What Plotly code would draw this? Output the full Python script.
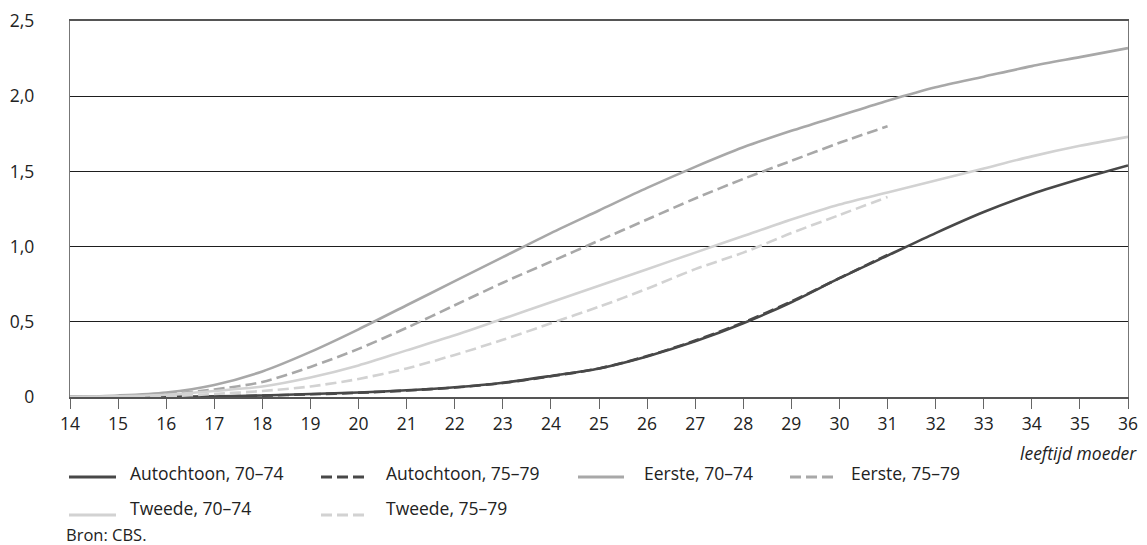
import plotly.graph_objects as go

# ---------------- data ----------------
ages_full = list(range(14, 37))          # 14 .. 36
ages_short = list(range(14, 32))         # 14 .. 31

autochtoon_70_74 = [0, 0, 0.002, 0.005, 0.01, 0.02, 0.03, 0.045, 0.065, 0.095, 0.14, 0.19,
                    0.27, 0.37, 0.49, 0.63, 0.79, 0.94, 1.09, 1.23, 1.35, 1.45, 1.54]
autochtoon_75_79 = [0, 0, 0.002, 0.004, 0.009, 0.018, 0.028, 0.043, 0.063, 0.093, 0.138, 0.19,
                    0.272, 0.375, 0.495, 0.635, 0.79, 0.945]
eerste_70_74 = [0, 0.01, 0.03, 0.08, 0.17, 0.30, 0.45, 0.61, 0.77, 0.93, 1.09, 1.24,
                1.39, 1.53, 1.66, 1.77, 1.87, 1.97, 2.06, 2.13, 2.20, 2.26, 2.32]
eerste_75_79 = [0, 0.005, 0.02, 0.05, 0.10, 0.20, 0.32, 0.46, 0.61, 0.76, 0.90, 1.04,
                1.18, 1.32, 1.45, 1.57, 1.69, 1.80]
tweede_70_74 = [0, 0.005, 0.015, 0.04, 0.07, 0.13, 0.21, 0.31, 0.41, 0.52, 0.63, 0.74,
                0.85, 0.96, 1.07, 1.18, 1.28, 1.36, 1.44, 1.52, 1.60, 1.67, 1.73]
tweede_75_79 = [0, 0, 0.005, 0.02, 0.04, 0.07, 0.12, 0.19, 0.28, 0.38, 0.49, 0.60,
                0.72, 0.85, 0.96, 1.09, 1.21, 1.33]

y_tickvals = [0, 0.5, 1.0, 1.5, 2.0, 2.5]
y_ticktext = ["0", "0,5", "1,0", "1,5", "2,0", "2,5"]
x_tickvals = ages_full

names = ["Autochtoon, 70–74", "Autochtoon, 75–79", "Eerste, 70–74",
         "Eerste, 75–79", "Tweede, 70–74", "Tweede, 75–79"]

# ---------------- style ----------------
DARK = "#484848"
MID = "#a8a8a8"
LIGHT = "#d2d2d2"
DASH = "11px,5px"
FONT = "Open Sans"
TXT = "#222222"
FS = 17.5

series = [
    (ages_full, autochtoon_70_74, DARK, "solid"),
    (ages_short, autochtoon_75_79, DARK, DASH),
    (ages_full, eerste_70_74, MID, "solid"),
    (ages_short, eerste_75_79, MID, DASH),
    (ages_full, tweede_70_74, LIGHT, "solid"),
    (ages_short, tweede_75_79, LIGHT, DASH),
]

fig = go.Figure()
for (xs, ys, col, dash), name in zip(series, names):
    fig.add_trace(go.Scatter(
        x=xs, y=ys, name=name, mode="lines",
        line=dict(color=col, width=2.6, dash=dash, shape="spline", smoothing=0.8),
        showlegend=False, hoverinfo="skip"))

# the page puts the figure 8px in from the top-left corner
OFF = 8
W, H = 1147 - OFF, 545 - OFF
# plot area in window pixels: x 70..1128, y 21..397
L, R, T, B = 70 - OFF, 1128 - OFF, 21 - OFF, 397 - OFF


def px(xp):
    return (xp - OFF - L) / (R - L)


def py(yp):
    return (B - (yp - OFF)) / (B - T)


# manual legend (lines + labels), window pixel positions
legend_items = [
    (0, 69, 116, 128, 477, 473),
    (1, 321, 365, 384, 477, 473),
    (2, 578, 624, 642, 477, 473),
    (3, 790, 833, 849, 477, 473),
    (4, 69, 116, 128, 515, 508),
    (5, 321, 365, 384, 515, 508),
]
shapes = []
annotations = []
for idx, x0, x1, xt, yl, yt in legend_items:
    _, _, col, dash = series[idx]
    shapes.append(dict(type="line", xref="paper", yref="paper",
                       x0=px(x0), x1=px(x1), y0=py(yl), y1=py(yl),
                       line=dict(color=col, width=2.8, dash=dash)))
    annotations.append(dict(xref="paper", yref="paper", x=px(xt), y=py(yt),
                            xanchor="left", yanchor="middle", showarrow=False,
                            text=names[idx], font=dict(family=FONT, size=FS, color=TXT)))

annotations.append(dict(xref="paper", yref="paper", x=px(1139), y=py(453),
                        xanchor="right", yanchor="middle", showarrow=False,
                        text="<i>leeftijd moeder</i>",
                        font=dict(family=FONT, size=FS, color=TXT)))
annotations.append(dict(xref="paper", yref="paper", x=px(64), y=py(534),
                        xanchor="left", yanchor="middle", showarrow=False,
                        text="Bron: CBS.",
                        font=dict(family=FONT, size=FS - 1, color=TXT)))

fig.update_layout(
    width=W, height=H,
    margin=dict(l=L, r=W - R, t=T, b=H - B, autoexpand=False),
    paper_bgcolor="white", plot_bgcolor="white",
    font=dict(family=FONT, size=FS, color=TXT),
    shapes=shapes, annotations=annotations,
    showlegend=False,
    xaxis=dict(range=[14, 36], tickmode="array", tickvals=x_tickvals,
               ticks="outside", ticklen=10, tickwidth=1.2, tickcolor="#666666",
               showline=True, linecolor="#555555", linewidth=1.5, mirror=True,
               showgrid=False, zeroline=False, automargin=False,
               tickfont=dict(family=FONT, size=FS, color=TXT)),
    yaxis=dict(range=[0, 2.5], tickmode="array", tickvals=y_tickvals, ticktext=y_ticktext,
               ticks="", ticklabelstandoff=31, automargin=False,
               showline=True, linecolor="#777777", linewidth=1.3, mirror=True,
               showgrid=True, gridcolor="#1e1e1e", gridwidth=1.2, zeroline=False,
               tickfont=dict(family=FONT, size=FS, color=TXT)),
)

fig.write_html("out.html")
